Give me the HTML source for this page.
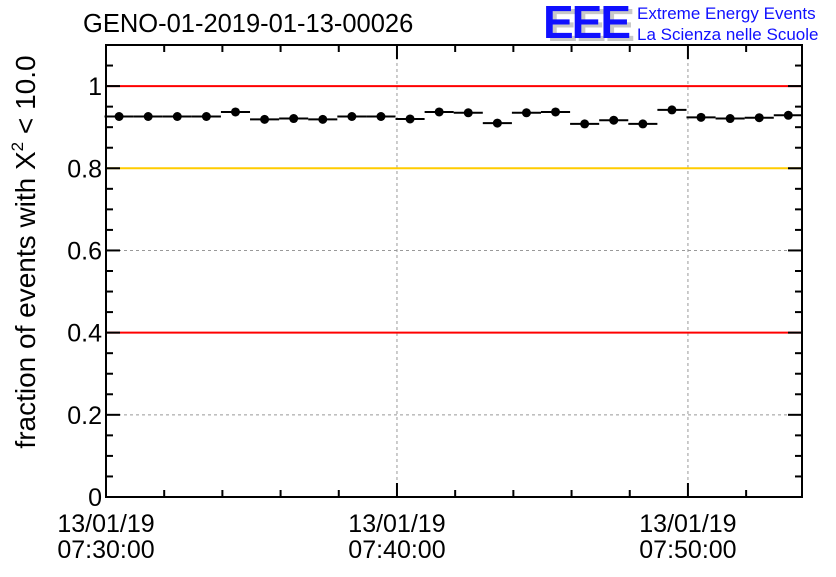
<!DOCTYPE html>
<html><head><meta charset="utf-8"><style>
body{margin:0;background:#fff;}
svg text{font-family:"Liberation Sans",Arial,sans-serif;}
</style></head><body>
<svg id="chart" width="836" height="572" viewBox="0 0 836 572" xmlns="http://www.w3.org/2000/svg">
<rect width="836" height="572" fill="#fff"/>
<text x="83" y="32" font-size="25.5" fill="#000">GENO-01-2019-01-13-00026</text>
<g>
<text x="547" y="41" font-size="46" font-weight="bold" fill="#c8c8c8" letter-spacing="-2">EEE</text>
<text x="543" y="38" font-size="46" font-weight="bold" fill="#1010ff" letter-spacing="-2">EEE</text>
<text x="637" y="19" font-size="17" fill="#1010ff">Extreme Energy Events</text>
<text x="637" y="40" font-size="17" fill="#1010ff">La Scienza nelle Scuole</text>
</g>
<text transform="translate(35,252) rotate(-90)" text-anchor="middle" font-size="28" fill="#000">fraction of events with X<tspan dy="-12" font-size="17">2</tspan><tspan dy="12"> &lt; 10.0</tspan></text>
<g id="grid"></g><g id="refs"></g><g id="marks"></g><g id="axes"></g>
</svg>
<script>
const binValues=[0.926,0.926,0.926,0.926,0.937,0.919,0.921,0.919,0.926,0.926,0.920,0.937,0.935,0.910,0.935,0.937,0.908,0.917,0.908,0.942,0.924,0.921,0.923,0.929];
const binStartMin=-0.05;
const binWidthMin=1;
const yTicks=[0,0.2,0.4,0.6,0.8,1];
const yTickLabels=["0","0.2","0.4","0.6","0.8","1"];
const xTicksMin=[0,10,20];
const xTickDates=["13/01/19","13/01/19","13/01/19"];
const xTickTimes=["07:30:00","07:40:00","07:50:00"];
const refLines=[1.0,0.8,0.4];
const refColors=["#ff0000","#ffcc00","#ff0000"];

const X0=106,X1=802,Y0=497,Y1=45;
const xMin=0,xMax=23.92,yMin=0,yMax=1.1;
const sx=v=>X0+(v-xMin)/(xMax-xMin)*(X1-X0);
const sy=v=>Y0-(v-yMin)/(yMax-yMin)*(Y0-Y1);
const NS="http://www.w3.org/2000/svg";
function mk(parent,tag,attrs){const e=document.createElementNS(NS,tag);for(const k in attrs)e.setAttribute(k,attrs[k]);document.getElementById(parent).appendChild(e);return e;}

yTicks.forEach(v=>{if(v>0){const l=mk('grid','line',{x1:X0,x2:X1,y1:sy(v),y2:sy(v),stroke:'#999','stroke-dasharray':'3,3','stroke-width':1});

}});
xTicksMin.forEach(v=>{const l=mk('grid','line',{x1:sx(v),x2:sx(v),y1:Y1,y2:Y0,stroke:'#999','stroke-dasharray':'3,3','stroke-width':1});

});
refLines.forEach((v,i)=>{const l=mk('refs','line',{x1:X0,x2:X1,y1:sy(v),y2:sy(v),stroke:refColors[i],'stroke-width':2});

});
binValues.forEach((v,i)=>{const a=binStartMin+i*binWidthMin,b=a+binWidthMin,c=(a+b)/2;
const l=mk('marks','line',{x1:sx(a),x2:sx(b),y1:sy(v),y2:sy(v),stroke:'#000','stroke-width':2});


const p=mk('marks','circle',{cx:sx(c),cy:sy(v),r:4.5,fill:'#000'});

});
const f=mk('axes','rect',{x:X0,y:Y1,width:X1-X0,height:Y0-Y1,fill:'none',stroke:'#000','stroke-width':2});


for(let k=0;k<=22;k++){const v=k*0.05,y=sy(v),len=(k%4===0)?14:7;
mk('axes','line',{x1:X0,x2:X0+len,y1:y,y2:y,stroke:'#000','stroke-width':2});
mk('axes','line',{x1:X1,x2:X1-len,y1:y,y2:y,stroke:'#000','stroke-width':2});}
yTicks.forEach((v,i)=>{const t=mk('axes','text',{x:X0-4,y:sy(v)+9,'text-anchor':'end','font-size':25,fill:'#000'});t.textContent=yTickLabels[i];

});
for(let m=0;m<=23;m+=2){const x=sx(m),len=(m%10===0)?14:7;
mk('axes','line',{x1:x,x2:x,y1:Y0,y2:Y0-len,stroke:'#000','stroke-width':2});
mk('axes','line',{x1:x,x2:x,y1:Y1,y2:Y1+len,stroke:'#000','stroke-width':2});}
xTicksMin.forEach((v,i)=>{const t1=mk('axes','text',{x:sx(v),y:532,'text-anchor':'middle','font-size':25,fill:'#000'});t1.textContent=xTickDates[i];


const t2=mk('axes','text',{x:sx(v),y:558,'text-anchor':'middle','font-size':25,fill:'#000'});t2.textContent=xTickTimes[i];

});
</script>
</body></html>
